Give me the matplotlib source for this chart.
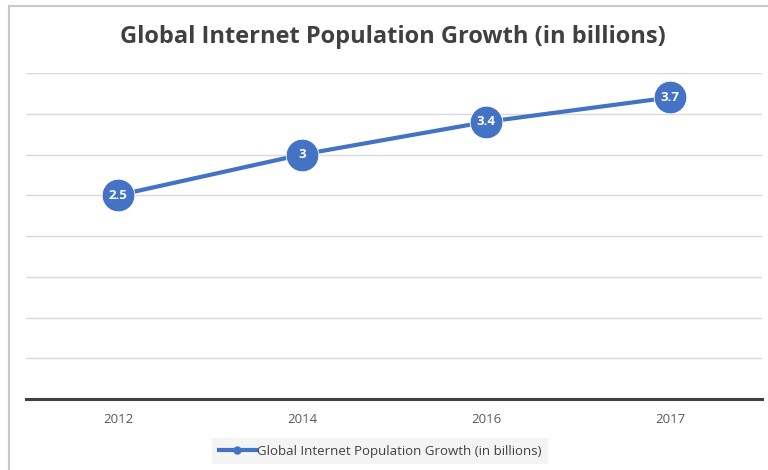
import matplotlib
matplotlib.use("Agg")
import matplotlib.pyplot as plt
from matplotlib.lines import Line2D

years = ["2012", "2014", "2016", "2017"]
users = [2.5, 3.0, 3.4, 3.7]
labels = ["2.5", "3", "3.4", "3.7"]
series_name = "Global Internet Population Growth (in billions)"
title = "Global Internet Population Growth (in billions)"

plt.rcParams['font.family'] = ['Open Sans', 'DejaVu Sans']
W, H = 768, 470
fig = plt.figure(figsize=(W/100, H/100), dpi=100)
ax = fig.add_axes([26/W, 1-399/H, (762-26)/W, (399-73)/H])

blue = "#4472C4"
x = list(range(len(years)))
ax.plot(x, users, color=blue, lw=3.0, marker='o', ms=23.5, mfc=blue, mec='white', mew=0.6,
        solid_capstyle='round', zorder=3, clip_on=False)
for xi, yi, lab in zip(x, users, labels):
    ax.text(xi, yi, lab, ha='center', va='center', color='white', fontsize=9.5,
            fontweight='bold', zorder=4)

ax.set_xlim(-0.5, 3.5)
ax.set_ylim(0, 4)
ax.set_yticks([i*0.5 for i in range(1, 9)])
ax.yaxis.grid(True, color='#d9d9d9', lw=1.0)
ax.set_axisbelow(True)
ax.tick_params(axis='y', left=False, labelleft=False)
ax.set_xticks(x)
ax.set_xticklabels(years, fontsize=9.5, color='#595959')
ax.tick_params(axis='x', length=0, pad=10)
for s in ['top', 'right', 'left']:
    ax.spines[s].set_visible(False)
ax.spines['bottom'].set_color('#404040')
ax.spines['bottom'].set_linewidth(2.2)

fig.text(393/W, 1-37/H, title, ha='center', va='center', fontsize=17, fontweight='bold', color='#404040')

handle = Line2D([], [], color=blue, lw=3, marker='o', ms=5, mfc=blue, mec=blue)
leg = fig.legend([handle], [series_name], loc='center', bbox_to_anchor=(380/W, 1-451/H),
                 frameon=True, fontsize=9.5, handlelength=2.8, handletextpad=0.1,
                 borderpad=0.5, fancybox=False)
leg.get_frame().set_facecolor('#f2f2f2')
leg.get_frame().set_edgecolor('none')
for t in leg.get_texts():
    t.set_color('#404040')

# outer border lines (left and top)
fig.add_artist(Line2D([9/W, 9/W], [0, 1-6/H], transform=fig.transFigure, color='#c8c8c8', lw=1.5))
fig.add_artist(Line2D([9/W, 1], [1-6/H, 1-6/H], transform=fig.transFigure, color='#c8c8c8', lw=1.5))

fig.savefig("out.png", dpi=100, facecolor='white')
